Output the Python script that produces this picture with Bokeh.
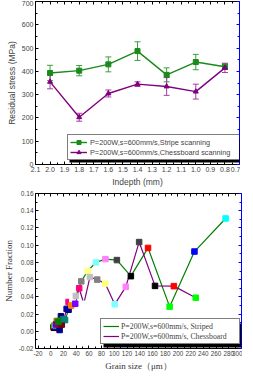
from bokeh.plotting import figure
from bokeh.layouts import column
from bokeh.models import (Range1d, LinearAxis, FixedTicker, NumeralTickFormatter, Whisker,
                          ColumnDataSource, Legend, LegendItem, TeeHead, BoxAnnotation)
from bokeh.embed import file_html
from bokeh.resources import INLINE

# ---------------- data: residual stress ----------------
depth = [2.0, 1.8, 1.6, 1.4, 1.2, 1.0, 0.8]
stripe_stress = [393, 403, 430, 487, 385, 440, 420]
stripe_err = [33, 22, 32, 40, 30, 33, 12]
chess_stress = [355, 203, 305, 345, 335, 313, 415]
chess_err = [30, 17, 15, 10, 38, 32, 20]

# ---------------- data: grain size distribution ----------------
striped_size = [5, 6, 7, 8, 9, 10, 11, 12, 16, 14, 17, 19, 22.5, 28, 31, 36, 28, 34,
                39.5, 48, 58, 71, 86, 104, 126, 153, 187, 226, 275]
striped_frac = [0.004, 0.005, 0.006, 0.007, 0.008, 0.009, 0.010, 0.011, 0.0175, 0.012,
                0.008, 0.014, 0.013, 0.025, 0.030, 0.032, 0.034, 0.035,
                0.041, 0.058, 0.070, 0.080, 0.0838, 0.0827, 0.064, 0.0968, 0.0286, 0.0926, 0.131]
chess_size = [4.5, 5.5, 6, 7, 7.5, 8, 8.5, 9.5, 13.9, 8.6, 17.4, 12, 21, 25, 32.3, 38.5,
              44.7, 52, 61.6, 73, 85.7, 100.6, 118, 139, 164, 193.6, 228]
chess_frac = [0.005, 0.006, 0.007, 0.006, 0.007, 0.008, 0.009, 0.012, 0.0015, 0.008, 0.008,
              0.011, 0.014, 0.026, 0.030, 0.032, 0.050, 0.032, 0.063, 0.060, 0.0554, 0.0313,
              0.0516, 0.1036, 0.0527, 0.0524, 0.039]

x1_ticks = [2.1, 2.0, 1.9, 1.8, 1.7, 1.6, 1.5, 1.4, 1.3, 1.2, 1.1, 1.0, 0.9, 0.8, 0.7]
y1_ticks = [0, 100, 200, 300, 400, 500, 600, 700]
x2_ticks = [-20, 0, 20, 40, 60, 80, 100, 120, 140, 160, 180, 200, 220, 240, 260, 280, 300]
y2_ticks = [-0.02, 0.0, 0.02, 0.04, 0.06, 0.08, 0.10, 0.12, 0.14, 0.16]

# Origin indexed colour cycle (style)
ORIGIN = ["#000000", "#FF0000", "#00FF00", "#0000FF", "#00FFFF", "#FF00FF", "#FFFF00",
          "#808000", "#000080", "#800080", "#800000", "#008000", "#008080", "#0000A0",
          "#FF8000", "#8000FF", "#FF0080", "#FFFFFF", "#C0C0C0", "#808080", "#FFFF80",
          "#80FFFF", "#FF80FF", "#404040"]

GREEN = "#1a8a1a"
PURPLE = "#800080"
SANS = "Liberation Sans"
SERIF = "Liberation Serif"


def minor_of(ticks, step):
    out = []
    for t in ticks[:-1]:
        out.append(t + step)
    return out


def style_axis(ax, ticks, minor, fmt, labels=True, color="black", size="7px"):
    ax.ticker = FixedTicker(ticks=ticks, minor_ticks=minor)
    ax.formatter = NumeralTickFormatter(format=fmt)
    ax.major_tick_in = 3
    ax.major_tick_out = 0
    ax.minor_tick_in = 2
    ax.minor_tick_out = 0
    ax.axis_line_color = color
    ax.major_tick_line_color = color
    ax.minor_tick_line_color = color
    ax.major_label_text_font = SANS
    ax.major_label_text_font_size = size
    ax.major_label_standoff = 2
    if not labels:
        ax.major_label_text_font_size = "1px"
        ax.major_label_text_color = None
        ax.major_label_standoff = 0


def make_legend(items, loc, font, size, glyph_w, label_w, pad, standoff):
    lg = Legend(items=items, location=loc, orientation="vertical")
    lg.label_text_font = font
    lg.label_text_font_size = size
    lg.label_height = 10
    lg.label_width = label_w
    lg.glyph_height = 10
    lg.glyph_width = glyph_w
    lg.label_standoff = standoff
    lg.padding = pad
    lg.spacing = 0
    lg.margin = 0
    lg.border_line_color = "black"
    lg.border_line_width = 1
    lg.background_fill_color = "white"
    lg.background_fill_alpha = 1
    return lg


def shadow(left, bottom, w, h, off):
    return BoxAnnotation(left=left + off, right=left + off + w,
                         bottom=bottom - off, top=bottom - off + h,
                         left_units="screen", right_units="screen",
                         bottom_units="screen", top_units="screen",
                         fill_color="black", fill_alpha=1, line_color=None)


# ================= top figure =================
p1 = figure(width=240, height=189, x_range=Range1d(2.1, 0.7), y_range=Range1d(0, 700),
            output_backend="svg", toolbar_location=None,
            min_border_left=22, min_border_right=1, min_border_top=1, min_border_bottom=24)
p1.grid.visible = False
p1.outline_line_color = None
p1.background_fill_color = "white"

x1_minor = [round(t - 0.05, 3) for t in x1_ticks[:-1]]
y1_minor = minor_of(y1_ticks, 50)
style_axis(p1.xaxis[0], x1_ticks, x1_minor, "0.0")
style_axis(p1.yaxis[0], y1_ticks, y1_minor, "0")
p1.xaxis[0].axis_label = "Indepth (mm)"
p1.yaxis[0].axis_label = "Residual stress (MPa)"
for ax in (p1.xaxis[0], p1.yaxis[0]):
    ax.axis_label_text_font = SANS
    ax.axis_label_text_font_style = "normal"
    ax.axis_label_text_font_size = "8.5px"
    ax.axis_label_standoff = 2

top1 = LinearAxis()
style_axis(top1, x1_ticks, x1_minor, "0.0", labels=False)
p1.add_layout(top1, "above")
right1 = LinearAxis()
style_axis(right1, y1_ticks, y1_minor, "0", labels=False, color="#0000FF")
p1.add_layout(right1, "right")

s_src = ColumnDataSource(dict(x=depth, y=stripe_stress,
                              lo=[v - e for v, e in zip(stripe_stress, stripe_err)],
                              hi=[v + e for v, e in zip(stripe_stress, stripe_err)]))
c_src = ColumnDataSource(dict(x=depth, y=chess_stress,
                              lo=[v - e for v, e in zip(chess_stress, chess_err)],
                              hi=[v + e for v, e in zip(chess_stress, chess_err)]))

for src, col in ((s_src, "#3ca03c"), (c_src, "#a040a0")):
    w = Whisker(base="x", lower="lo", upper="hi", source=src, line_color=col, line_width=1,
                upper_head=TeeHead(size=6, line_color=col, line_width=1),
                lower_head=TeeHead(size=6, line_color=col, line_width=1))
    p1.add_layout(w)

l1 = p1.line("x", "y", source=s_src, line_color=GREEN, line_width=1.4)
m1 = p1.scatter("x", "y", source=s_src, marker="square", size=5, fill_color=GREEN, line_color=GREEN)
l2 = p1.line("x", "y", source=c_src, line_color=PURPLE, line_width=1.4)
m2 = p1.scatter("x", "y", source=c_src, marker="triangle", size=5, fill_color=PURPLE, line_color=PURPLE)

lab1a = "P=200W,s=600mm/s,Stripe scanning"
lab1b = "P=200W,s=600mm/s,Chessboard scanning"

# legend size: 2*pad + glyph + standoff + label_w ; 2*pad + 2*label_height
p1.add_layout(shadow(32, 4, 2 * 2 + 17 + 3 + 150, 2 * 2 + 20, 2))
lg1 = make_legend([LegendItem(label=lab1a, renderers=[l1, m1]),
                   LegendItem(label=lab1b, renderers=[l2, m2])], (32, 4), SANS, "7.3px",
                  17, 150, 2, 3)
p1.add_layout(lg1, "center")

# ================= bottom figure =================
p2 = figure(width=242, height=184, x_range=Range1d(-24, 300), y_range=Range1d(-0.02, 0.16),
            output_backend="svg", toolbar_location=None,
            min_border_left=22, min_border_right=0, min_border_top=4, min_border_bottom=22)
p2.grid.visible = False
p2.outline_line_color = None

x2_minor = minor_of(x2_ticks, 10)
y2_minor = [round(t + 0.01, 3) for t in y2_ticks[:-1]]
style_axis(p2.xaxis[0], x2_ticks, x2_minor, "0", size="6.3px")
style_axis(p2.yaxis[0], y2_ticks, y2_minor, "0.00", size="6.5px")
p2.xaxis[0].axis_label = "Grain size（μm）"
p2.yaxis[0].axis_label = "Number Fraction"
for ax in (p2.xaxis[0], p2.yaxis[0]):
    ax.axis_label_text_font = SERIF
    ax.axis_label_text_font_style = "normal"
    ax.axis_label_text_font_size = "9px"
    ax.axis_label_standoff = 2
    ax.axis_label_text_color = "#333333"

top2 = LinearAxis()
style_axis(top2, x2_ticks, x2_minor, "0", labels=False)
p2.add_layout(top2, "above")
right2 = LinearAxis()
style_axis(right2, y2_ticks, y2_minor, "0.00", labels=False, color="#0000FF")
p2.add_layout(right2, "right")

st_src = ColumnDataSource(dict(x=striped_size, y=striped_frac,
                               c=[ORIGIN[i % len(ORIGIN)] for i in range(len(striped_size))]))
ch_src = ColumnDataSource(dict(x=chess_size, y=chess_frac,
                               c=[ORIGIN[i % len(ORIGIN)] for i in range(len(chess_size))]))

gl = p2.line("x", "y", source=st_src, line_color="#008000", line_width=1.2)
pl = p2.line("x", "y", source=ch_src, line_color=PURPLE, line_width=1.2)
p2.scatter("x", "y", source=st_src, marker="square", size=5.5, fill_color="c", line_color="c")
p2.scatter("x", "y", source=ch_src, marker="square", size=5.5, fill_color="c", line_color="c")
dm1 = p2.scatter(x=[], y=[], marker="square", size=6, fill_color=PURPLE, line_color=PURPLE)
dm2 = p2.scatter(x=[], y=[], marker="square", size=6, fill_color="#808000", line_color="#808000")

lab2a = "P=200W,s=600mm/s, Striped"
lab2b = "P=200W,s=600mm/s, Chessboard"
p2.add_layout(shadow(65, 4, 2 * 2 + 16 + 2 + 116, 2 * 2 + 20, 3))
lg2 = make_legend([LegendItem(label=lab2a, renderers=[gl, dm1]),
                   LegendItem(label=lab2b, renderers=[pl, dm2])], (65, 4), SERIF, "7.8px",
                  16, 116, 2, 2)
p2.add_layout(lg2, "center")

layout = column(p1, p2, spacing=0)
open("out.html", "w").write(file_html(layout, INLINE))
